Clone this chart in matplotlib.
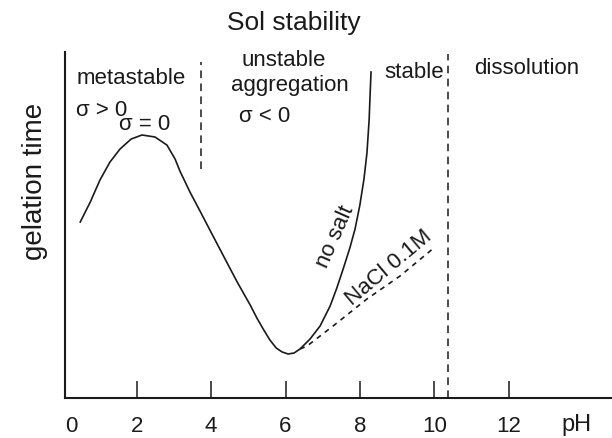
import matplotlib
matplotlib.use("Agg")
import matplotlib.pyplot as plt

plt.rcParams['font.family'] = ['Liberation Sans', 'DejaVu Sans']

# Data (pH vs. relative gelation time, arbitrary units)
ph_nosalt = [0.48, 0.75, 1.01, 1.28, 1.55, 1.85, 2.14, 2.49, 2.81, 3.03, 3.16, 3.43,
             3.70, 4.05, 4.70, 5.05, 5.23, 5.40, 5.58, 5.75, 5.91, 6.07, 6.23, 6.39,
             6.66, 6.93, 7.20, 7.38, 7.55, 7.73, 7.87, 8.00, 8.11, 8.19, 8.25, 8.27, 8.30]
gt_nosalt = [176, 196, 218, 236, 249, 259, 263, 261, 253, 239, 227, 206,
             187, 162, 116, 93, 80, 69, 58, 50, 46, 44, 45, 49,
             59, 72, 92, 110, 129, 150, 169, 193, 219, 245, 279, 299, 326]

ph_nacl = [6.39, 6.58, 7.28, 8.19, 9.08, 10.02]
gt_nacl = [49, 52, 72, 99, 122, 151]

xtick_vals = [2, 4, 6, 8, 10, 12]
xtick_labels = ['2', '4', '6', '8', '10', '12']

boundary_meta = 3.73
boundary_dissol = 10.38

fig = plt.figure(figsize=(6.12, 4.39), dpi=100)
ax = fig.add_axes([65/612, 40/439, 547/612, 346/439])

ax.plot(ph_nosalt, gt_nosalt, color='#1a1a1a', lw=1.2, solid_joinstyle='round')
ax.plot(ph_nacl, gt_nacl, color='#1a1a1a', lw=1.2, dashes=(3, 3))

ax.plot([boundary_meta, boundary_meta], [229, 336], color='#1a1a1a', lw=1.1, dashes=(5, 3.5))
ax.plot([boundary_dissol, boundary_dissol], [0, 344], color='#1a1a1a', lw=1.1, dashes=(5, 3.5))

ax.set_xlim(0.07, 14.78)
ax.set_ylim(0, 346)

for s in ['top', 'right']:
    ax.spines[s].set_visible(False)
for s in ['left', 'bottom']:
    ax.spines[s].set_linewidth(1.5)
    ax.spines[s].set_color('#1a1a1a')

ax.set_yticks([])
ax.set_xticks([0.23] + xtick_vals)
ax.set_xticklabels(['0'] + xtick_labels, fontsize=16, color='#1a1a1a')
ax.tick_params(axis='x', direction='in', length=12, width=1.1, pad=12.5, colors='#1a1a1a')
ax.xaxis.get_major_ticks()[0].tick1line.set_visible(False)

ax.text(13.83, -26, 'pH', fontsize=17, ha='center', va='center', color='#1a1a1a', clip_on=False)

ax.set_ylabel('gelation time', fontsize=20, color='#1a1a1a')
ax.yaxis.set_label_coords(-0.031, 0.63)

fig.text(294/612, 1 - 23/439, 'Sol stability', fontsize=19, ha='center', va='center', color='#1a1a1a')

tk = dict(fontsize=16, color='#1a1a1a')
ax.text(0.37, 321, 'metastable', ha='left', va='center', **tk)
ax.text(0.37, 288, 'σ > 0', ha='left', va='center', **tk)
ax.text(2.22, 274, 'σ = 0', ha='center', va='center', **tk)
ax.text(5.96, 339, 'unstable', ha='center', va='center', **tk)
ax.text(6.12, 314, 'aggregation', ha='center', va='center', **tk)
ax.text(4.75, 282, 'σ < 0', ha='left', va='center', **tk)
ax.text(8.65, 327, 'stable', ha='left', va='center', **tk)
ax.text(11.07, 330, 'dissolution', ha='left', va='center', **tk)
ax.text(7.33, 162, 'no salt', ha='center', va='center', rotation=66, rotation_mode='anchor', **tk)
ax.text(8.78, 131, 'NaCl 0.1M', ha='center', va='center', rotation=40, rotation_mode='anchor', **tk)

fig.savefig('out.png', dpi=100)
